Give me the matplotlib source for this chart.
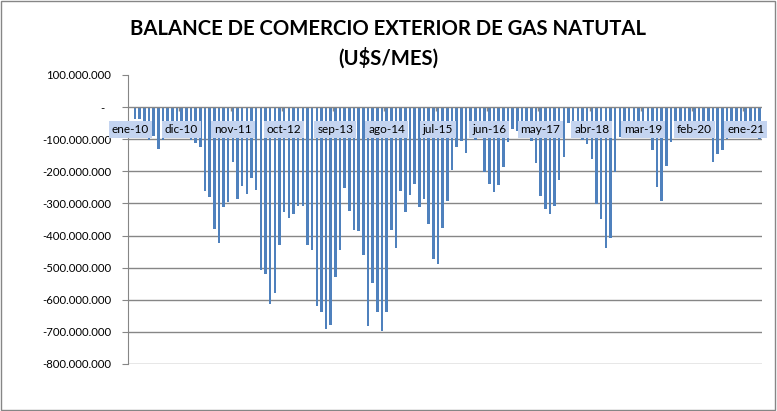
import numpy as np
import matplotlib
matplotlib.use("Agg")
from matplotlib import pyplot as plt
from matplotlib.patches import Rectangle

# monthly balance, millions of U$S (ene-10 is empty in the source)
y2010 = [np.nan, -37, -37, -70, -104, -90, -131, -104, -75, -80, -85, -97]
y2011 = [-97, -104, -112, -123, -260, -281, -380, -423, -311, -296, -172, -287]
y2012 = [-247, -271, -221, -258, -508, -520, -613, -579, -431, -328, -346, -333]
y2013 = [-309, -309, -431, -446, -618, -638, -690, -680, -530, -444, -252, -325]
y2014 = [-384, -387, -462, -683, -548, -638, -698, -638, -384, -439, -260, -328]
y2015 = [-273, -239, -312, -287, -363, -472, -490, -378, -292, -195, -123, -107]
y2016 = [-142, -70, -104, -70, -201, -240, -263, -242, -188, -110, -68, -76]
y2017 = [-60, -60, -107, -175, -278, -317, -332, -309, -226, -154, -50, -86]
y2018 = [-95, -104, -116, -162, -301, -349, -439, -408, -201, -92, -60, -50]
y2019 = [-60, -60, -60, -60, -135, -250, -294, -182, -109, -60, -60, -60]
y2020 = [-60, -60, -60, -70, -94, -170, -146, -133, -99, -60, -60, -70]
y2021 = [-60, -70, -80, -99]

meses = ["ene", "feb", "mar", "abr", "may", "jun", "jul", "ago", "sep", "oct", "nov", "dic"]
years = [y2010, y2011, y2012, y2013, y2014, y2015, y2016, y2017, y2018, y2019, y2020, y2021]

values = []
labels = []
for k, yr in enumerate(years):
    for m, v in enumerate(yr):
        values.append(v * 1e6)
        labels.append("%s-%02d" % (meses[m], 10 + k))
values = np.array(values)
x = np.arange(len(values))

fig = plt.figure(figsize=(7.77, 4.11), dpi=100)
ax = fig.add_axes([0.1647, 0.1144, 0.816, 0.7032])

ax.bar(x, values, width=0.55, color="#4f81bd", zorder=2)

ax.set_xlim(-0.5, len(values) - 0.5)
ax.set_ylim(-800e6, 100e6)

yticks = np.arange(-800e6, 100e6 + 1, 100e6)
ax.set_yticks(yticks)
ytl = []
for t in yticks:
    if t == 0:
        ytl.append("-  ")
    else:
        ytl.append("{:,.0f}".format(t).replace(",", "."))
ax.set_yticklabels(ytl, fontname="Lato", fontsize=8.2)
ax.tick_params(axis="y", length=4, color="#868686", pad=8)
ax.set_xticks([])

for t in yticks:
    if t < 0:
        ax.axhline(t, color="#868686", lw=1, zorder=1)
ax.axhline(0, color="#868686", lw=1, zorder=3)
ax.vlines(np.arange(11, len(values), 11) - 0.5, -12e6, 0, color="#868686", lw=1, zorder=3)

for s in ["top", "right", "bottom"]:
    ax.spines[s].set_visible(False)
ax.spines["left"].set_color("#868686")

# category labels sit inside the plot, just under the zero line
for i in range(0, len(values), 11):
    ax.text(i, -69e6, labels[i], ha="center", va="center", fontname="Lato",
            fontsize=8.5, zorder=5,
            bbox=dict(boxstyle="square,pad=0.25", fc="#c4d4f0", ec="none"))

fig.text(0.5, 0.93, "BALANCE DE COMERCIO EXTERIOR DE GAS NATUTAL", ha="center",
         va="center", fontname="Lato", fontweight="bold", fontsize=14.6)
fig.text(0.5, 0.858, "(U$S/MES)", ha="center", va="center", fontname="Lato",
         fontweight="bold", fontsize=14.6)

fig.patches.append(Rectangle((0.001, 0.002), 0.997, 0.995, transform=fig.transFigure,
                             fill=False, ec="#868686", lw=1))

fig.savefig("out.png", dpi=100)
